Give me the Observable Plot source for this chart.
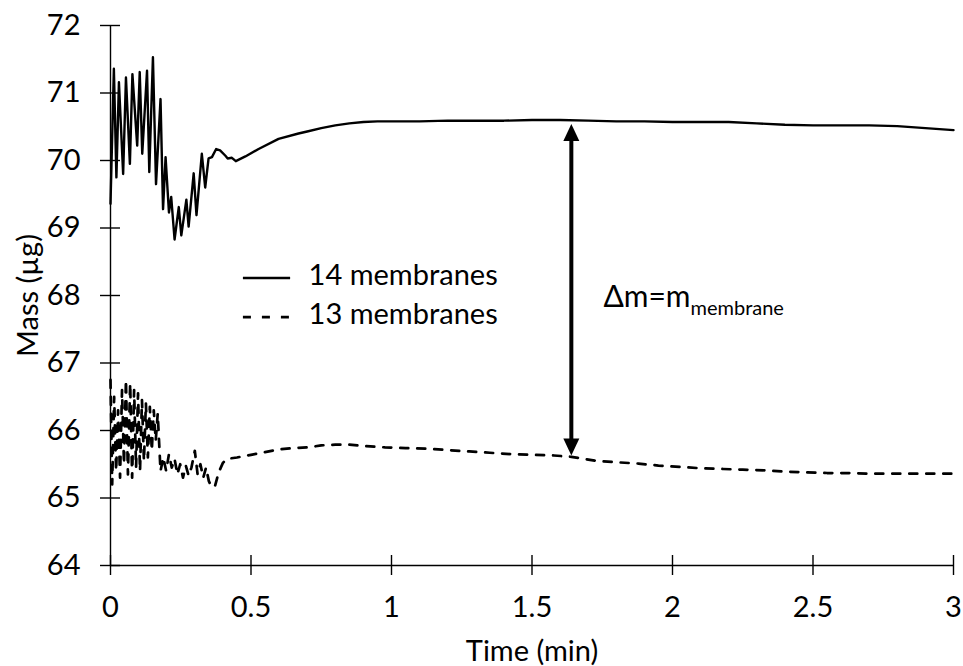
<!DOCTYPE html>
<html>
<head>
<meta charset="utf-8">
<script src="https://cdn.jsdelivr.net/npm/d3@7"></script>
<script src="https://cdn.jsdelivr.net/npm/@observablehq/plot@0.6"></script>
<style>
  html, body { margin: 0; padding: 0; background: #fff; }
  #chart svg { display: block; }
</style>
</head>
<body>
<div id="chart"></div>
<script>
// ---- data ----
const time14 = [0, 0.012, 0.021, 0.030, 0.045, 0.055, 0.069, 0.078, 0.095, 0.104, 0.113, 0.130, 0.138, 0.151, 0.162, 0.178, 0.187, 0.196, 0.208, 0.216, 0.228, 0.243, 0.252, 0.270, 0.278, 0.296, 0.306, 0.325, 0.337, 0.349, 0.361, 0.376, 0.390, 0.409, 0.417, 0.432, 0.446, 0.48, 0.527, 0.598, 0.669, 0.7, 0.75, 0.8, 0.85, 0.9, 0.95, 1.0, 1.1, 1.2, 1.3, 1.4, 1.5, 1.6, 1.7, 1.8, 1.9, 2.0, 2.1, 2.2, 2.3, 2.4, 2.5, 2.6, 2.7, 2.8, 2.9, 3.0];
const mass14 = [69.36, 71.36, 69.75, 71.16, 69.80, 71.23, 69.95, 71.28, 70.22, 71.31, 70.10, 71.33, 69.83, 71.53, 69.65, 70.91, 69.28, 70.05, 69.23, 69.46, 68.83, 69.31, 68.89, 69.42, 69.02, 69.81, 69.19, 70.10, 69.60, 70.03, 70.05, 70.17, 70.15, 70.07, 70.03, 70.04, 69.99, 70.06, 70.17, 70.32, 70.40, 70.43, 70.48, 70.52, 70.55, 70.57, 70.58, 70.58, 70.58, 70.59, 70.59, 70.59, 70.60, 70.60, 70.59, 70.58, 70.58, 70.57, 70.57, 70.57, 70.55, 70.53, 70.52, 70.52, 70.52, 70.51, 70.48, 70.45];

const time13 = [0.000, 0.006, 0.013, 0.020, 0.027, 0.034, 0.041, 0.048, 0.055, 0.062, 0.070, 0.077, 0.084, 0.091, 0.098, 0.105, 0.112, 0.119, 0.126, 0.133, 0.140, 0.147, 0.154, 0.161, 0.168, 0.178, 0.188, 0.198, 0.208, 0.218, 0.228, 0.238, 0.248, 0.258, 0.268, 0.278, 0.288, 0.300, 0.310, 0.320, 0.330, 0.340, 0.350, 0.360, 0.372, 0.385, 0.400, 0.415, 0.45, 0.5, 0.55, 0.6, 0.65, 0.705, 0.75, 0.8, 0.85, 0.9, 0.977, 1.05, 1.127, 1.2, 1.277, 1.35, 1.427, 1.5, 1.578, 1.64, 1.728, 1.8, 1.879, 1.95, 2.03, 2.1, 2.18, 2.25, 2.33, 2.4, 2.48, 2.55, 2.63, 2.7, 2.78, 2.9, 3.0];
const mass13 = [66.75, 65.2, 66.5, 65.4, 66.3, 65.3, 66.6, 65.5, 66.75, 65.35, 66.7, 65.3, 66.6, 65.45, 66.55, 65.4, 66.45, 65.55, 66.4, 65.6, 66.35, 65.7, 66.3, 65.85, 66.25, 65.4, 65.6, 65.4, 65.65, 65.45, 65.58, 65.35, 65.5, 65.3, 65.48, 65.33, 65.45, 65.7, 65.35, 65.5, 65.3, 65.45, 65.25, 65.16, 65.18, 65.38, 65.52, 65.58, 65.6, 65.64, 65.68, 65.72, 65.74, 65.75, 65.78, 65.79, 65.79, 65.77, 65.75, 65.74, 65.73, 65.71, 65.69, 65.67, 65.65, 65.64, 65.63, 65.61, 65.55, 65.53, 65.51, 65.48, 65.46, 65.44, 65.43, 65.42, 65.41, 65.39, 65.38, 65.37, 65.37, 65.36, 65.36, 65.36, 65.36];

const xTicks = [0, 0.5, 1, 1.5, 2, 2.5, 3];
const xTickLabels = ["0", "0.5", "1", "1.5", "2", "2.5", "3"];
const yTicks = [64, 65, 66, 67, 68, 69, 70, 71, 72];
const yTickLabels = ["64", "65", "66", "67", "68", "69", "70", "71", "72"];

const seriesNames = ["14 membranes", "13 membranes"];
const xLabel = "Time (min)";
const yLabel = "Mass (µg)";
const annotMain = "Δm=m";
const annotSub = "membrane";

// annotation (in data units)
const arrowTime = 1.64;
const arrowTop = 70.54;
const arrowBottom = 65.63;
const annotTime = 2.064;
const annotMass = 67.97;

// legend layout (in data units)
const legendLineX = [0.473, 0.641];
const legendTextX = 0.705;
const legendY = [68.26, 67.68];

// ---- build ----
const s14 = time14.map((t, i) => ({t, m: mass14[i]}));
const s13 = time13.map((t, i) => ({t, m: mass13[i]}));

const FONT = "Lato, 'Open Sans', 'DejaVu Sans', sans-serif";
const FS = 29;

const triUp = { draw(ctx) { ctx.moveTo(0, 0); ctx.lineTo(-8, 17); ctx.lineTo(8, 17); ctx.closePath(); } };
const triDown = { draw(ctx) { ctx.moveTo(0, 0); ctx.lineTo(-8, -17); ctx.lineTo(8, -17); ctx.closePath(); } };

const chart = Plot.plot({
  width: 963,
  height: 666,
  marginLeft: 110,
  marginRight: 10,
  marginTop: 25,
  marginBottom: 101,
  style: { fontFamily: FONT, fontSize: FS + "px", color: "#000", background: "#fff" },
  x: { domain: [0, 3] },
  y: { domain: [64, 72] },
  marks: [
    // axes lines
    Plot.ruleX([0], { y1: 64, y2: 72, stroke: "#000", strokeWidth: 1.4 }),
    Plot.ruleY([64], { x1: 0, x2: 3, stroke: "#000", strokeWidth: 1.4 }),
    // crossing ticks
    Plot.ruleY(yTicks, { x1: 0, x2: 0, insetLeft: -10, insetRight: -10, stroke: "#000", strokeWidth: 1.4 }),
    Plot.ruleX(xTicks, { y1: 64, y2: 64, insetTop: -10, insetBottom: -10, stroke: "#000", strokeWidth: 1.4 }),
    // tick labels
    Plot.axisY({ ticks: yTicks, tickFormat: (d) => yTickLabels[yTicks.indexOf(d)], tickSize: 0, tickPadding: 30, label: null, fontSize: FS }),
    Plot.axisX({ ticks: xTicks, tickFormat: (d) => xTickLabels[xTicks.indexOf(d)], tickSize: 0, tickPadding: 31, label: null, fontSize: FS }),
    // axis titles
    Plot.text([xLabel], { frameAnchor: "bottom", textAnchor: "middle", lineAnchor: "middle", dy: 86, fontSize: FS, fill: "#000" }),
    Plot.text([yLabel], { frameAnchor: "left", textAnchor: "middle", lineAnchor: "middle", dx: -82, rotate: -90, fontSize: FS, fill: "#000" }),
    // series
    Plot.line(s14, { x: "t", y: "m", stroke: "#000", strokeWidth: 2.4, strokeLinejoin: "round" }),
    Plot.line(s13, { x: "t", y: "m", stroke: "#000", strokeWidth: 2.7, strokeDasharray: "8,9" }),
    // legend
    Plot.ruleY([legendY[0]], { x1: legendLineX[0], x2: legendLineX[1], stroke: "#000", strokeWidth: 2.4 }),
    Plot.ruleY([legendY[1]], { x1: legendLineX[0], x2: legendLineX[1], stroke: "#000", strokeWidth: 2.7, strokeDasharray: "8,11" }),
    Plot.text(seriesNames, { x: () => legendTextX, y: (d, i) => legendY[i], text: (d) => d, textAnchor: "start", dy: -2, fontSize: FS, fill: "#000" }),
    // double arrow
    Plot.ruleX([arrowTime], { y1: arrowTop, y2: arrowBottom, insetTop: 10, insetBottom: 10, stroke: "#000", strokeWidth: 4 }),
    Plot.dot([{t: arrowTime, m: arrowTop}], { x: "t", y: "m", symbol: triUp, fill: "#000", stroke: "none", r: 8 }),
    Plot.dot([{t: arrowTime, m: arrowBottom}], { x: "t", y: "m", symbol: triDown, fill: "#000", stroke: "none", r: 8 }),
    // annotation
    Plot.text([annotMain], { x: () => annotTime, y: () => annotMass, textAnchor: "end", fontSize: 30, fill: "#000" }),
    Plot.text([annotSub], { x: () => annotTime, y: () => annotMass, textAnchor: "start", dy: 11, fontSize: 20, fill: "#000" })
  ]
});

document.getElementById("chart").append(chart);
</script>
</body>
</html>
